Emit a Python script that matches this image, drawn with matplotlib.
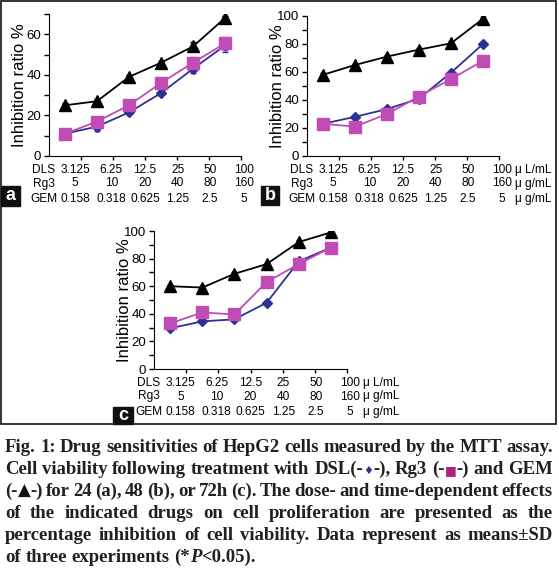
import numpy as np
import matplotlib
matplotlib.use("Agg")
import matplotlib.pyplot as plt
from matplotlib.patches import Rectangle

plt.rcParams['font.family'] = ['Liberation Sans', 'DejaVu Sans']

# dose labels (x axis rows)
dls_doses = ['3.125', '6.25', '12.5', '25', '50', '100']
rg3_doses = ['5', '10', '20', '40', '80', '160']
gem_doses = ['0.158', '0.318', '0.625', '1.25', '2.5', '5']
row_names = ['DLS', 'Rg3', 'GEM']
units = ['\u03bc L/mL', '\u03bc g/mL', '\u03bc g/mL']

# inhibition ratio %
dsl_24 = [11, 14.5, 21.5, 31, 43, 54.5]
rg3_24 = [11, 17, 25, 36, 46, 55.5]
gem_24 = [25, 27, 39, 46, 54, 68]
dsl_48 = [23, 28, 33.5, 41, 59.5, 80]
rg3_48 = [23, 21, 30, 42.5, 55, 68]
gem_48 = [58, 65, 71, 76, 80.5, 98]
dsl_72 = [29.5, 34.5, 36, 48, 78, 88]
rg3_72 = [33, 41, 39.5, 63, 76, 88]
gem_72 = [60, 59, 69, 76, 92, 99]

# SD (rough)
dsl_24_sd = [1.5, 2, 1, 1, 2, 3]
rg3_24_sd = [2, 1, 1, 1.5, 3, 3]
gem_24_sd = [1, 1, 1, 1, 2, 1]
dsl_48_sd = [1, 1, 1, 1, 1.5, 1]
rg3_48_sd = [1, 1, 1, 1, 1.5, 1]
gem_48_sd = [1, 1, 1, 1, 1.5, 3]
dsl_72_sd = [1.5, 1, 1, 1, 1.5, 1]
rg3_72_sd = [1, 1, 1, 1, 1.5, 1]
gem_72_sd = [1, 1, 1, 1, 1.5, 2]

W, H = 559, 569
fig = plt.figure(figsize=(W / 100, H / 100), dpi=100)

def box(l, t, r, b):
    return [l / W, 1 - b / H, (r - l) / W, (b - t) / H]

C_DSL = '#2e3192'
C_RG3 = '#c04cb6'
C_GEM = '#000000'

lab_x = [0.82, 1.95, 3.0, 4.02, 5.03, 6.1]
row_off = [-10, -19.8, -31]  # points below axis

def panel(rect, ymax, dsl, rg3, gem, sds, letter, letter_box, show_units):
    ax = fig.add_axes(box(*rect))
    x = np.arange(len(dsl)) + 0.5
    for y, sd, c, m, ms in [(dsl, sds[0], C_DSL, 'D', 5.5),
                            (rg3, sds[1], C_RG3, 's', 8),
                            (gem, sds[2], C_GEM, '^', 8.5)]:
        ax.errorbar(x, y, yerr=sd, color=c, marker=m, ms=ms, lw=1.3,
                    ecolor=c, elinewidth=1, capsize=2.5, mec=c, mfc=c)
    ax.set_xlim(0, 6)
    ax.set_ylim(0, ymax)
    ax.set_yticks(np.arange(0, ymax + 1, 20))
    ax.set_yticks(np.arange(0, ymax + 1, 10), minor=True)
    ax.set_xticks(np.arange(1, 7))
    ax.set_xticklabels([])
    ax.spines[['top', 'right']].set_visible(False)
    ax.tick_params(which='both', direction='out', length=3.5, width=1,
                   labelsize=9.5, pad=2)
    ax.tick_params(axis='x', length=3)
    ax.set_ylabel('Inhibition ratio %', fontsize=12)
    ax.yaxis.set_label_coords(-0.115, 0.5)
    for r, (name, labels) in enumerate(zip(row_names, [dls_doses, rg3_doses, gem_doses])):
        ax.annotate(name, (-0.17, 0), xycoords=('data', 'axes fraction'),
                    xytext=(0, row_off[r]), textcoords='offset points',
                    ha='center', va='center', fontsize=8.6)
        for xp, lb in zip(lab_x, labels):
            ax.annotate(lb, (xp, 0), xycoords=('data', 'axes fraction'),
                        xytext=(0, row_off[r]), textcoords='offset points',
                        ha='center', va='center', fontsize=8.6)
        if show_units:
            ax.annotate(units[r], (6.5, 0), xycoords=('data', 'axes fraction'),
                        xytext=(0, row_off[r]), textcoords='offset points',
                        ha='left', va='center', fontsize=8.6)
    l, t, r_, b = letter_box
    fig.patches.append(Rectangle((l / W, 1 - b / H), (r_ - l) / W, (b - t) / H,
                                 transform=fig.transFigure, color='#111111'))
    fig.text((l + r_) / 2 / W, 1 - (t + b) / 2 / H, letter, color='white',
             fontsize=13, fontweight='bold', ha='center', va='center')
    return ax

panel((49, 14, 241, 156), 70, dsl_24, rg3_24, gem_24,
      (dsl_24_sd, rg3_24_sd, gem_24_sd), 'a', (1, 186, 20, 206), False)
panel((307, 16, 499, 156), 100, dsl_48, rg3_48, gem_48,
      (dsl_48_sd, rg3_48_sd, gem_48_sd), 'b', (261, 186, 279, 205), True)
panel((154, 231, 347, 369), 100, dsl_72, rg3_72, gem_72,
      (dsl_72_sd, rg3_72_sd, gem_72_sd), 'c', (113, 407, 133, 424), True)

# outer frame
fig.patches.append(Rectangle((1 / W, 1 - 424 / H), 555 / W, 423 / H,
                             transform=fig.transFigure, fill=False,
                             ec='#111111', lw=1.2))

# caption, justified by hand
CAP = dict(family='Liberation Serif', fontsize=13, fontweight='bold', color='#231f20')
def sym(s, c, size):
    return (s, dict(family='DejaVu Sans', fontsize=size, color=c))
def t(s, **kw):
    d = dict(CAP); d.update(kw)
    return (s, d)

lines = [
    "Fig. 1: Drug sensitivities of HepG2 cells measured by the MTT assay.",
    ["Cell", "viability", "following", "treatment", "with",
     [t("DSL(-"), sym('\u2666', C_DSL, 8), t("-),")], "Rg3",
     [t("(-"), sym('\u25a0', '#b0207a', 9), t("-)")], "and", "GEM"],
    [[t("(-"), sym('\u25b2', '#111111', 12), t("-)")],
     "for", "24", "(a),", "48", "(b),", "or", "72h", "(c).", "The", "dose-", "and",
     "time-dependent", "effects"],
    "of the indicated drugs on cell proliferation are presented as the",
    "percentage inhibition of cell viability. Data represent as means\u00b1SD",
    ["of", "three", "experiments", [t("(*"), t("P", fontstyle='italic'), t("<0.05).")]],
]

renderer = fig.canvas.get_renderer()
def width(s, kw):
    tx = fig.text(0, 0, s, **kw)
    w = tx.get_window_extent(renderer).width
    tx.remove()
    return w

x0, x1 = 5, 553

def build(size):
    CAP['fontsize'] = size
    out = []
    for i, line in enumerate(lines):
        words = line.split() if isinstance(line, str) else line
        segs = []
        for w in words:
            if isinstance(w, str):
                segs.append([t(w)])
            else:
                segs.append([(s, dict(kw, fontsize=size) if kw['family'] == CAP['family'] else kw)
                             for s, kw in w])
        out.append(segs)
    return out

# biggest size whose tightest line still fits
size = 15
while True:
    sp = width("a a", CAP | {'fontsize': size}) - width("aa", CAP | {'fontsize': size})
    segs_all = build(size)
    need = max(sum(width(s, kw) for sg in segs for s, kw in sg) + 0.55 * sp * (len(segs) - 1)
               for segs in segs_all[:-1])
    if need <= x1 - x0:
        break
    size -= 0.25

space_w = width("a a", CAP) - width("aa", CAP)
base = 452
for i, segs in enumerate(segs_all):
    wws = [sum(width(s, kw) for s, kw in sg) for sg in segs]
    last = i == len(segs_all) - 1
    gap = space_w if last else (x1 - x0 - sum(wws)) / (len(segs) - 1)
    x = x0
    y = 1 - (base + i * 22) / H
    for sg, ww in zip(segs, wws):
        xx = x
        for s, kw in sg:
            fig.text(xx / W, y, s, ha='left', va='baseline', **kw)
            xx += width(s, kw)
        x += ww + gap

fig.savefig('out.png', dpi=100)
